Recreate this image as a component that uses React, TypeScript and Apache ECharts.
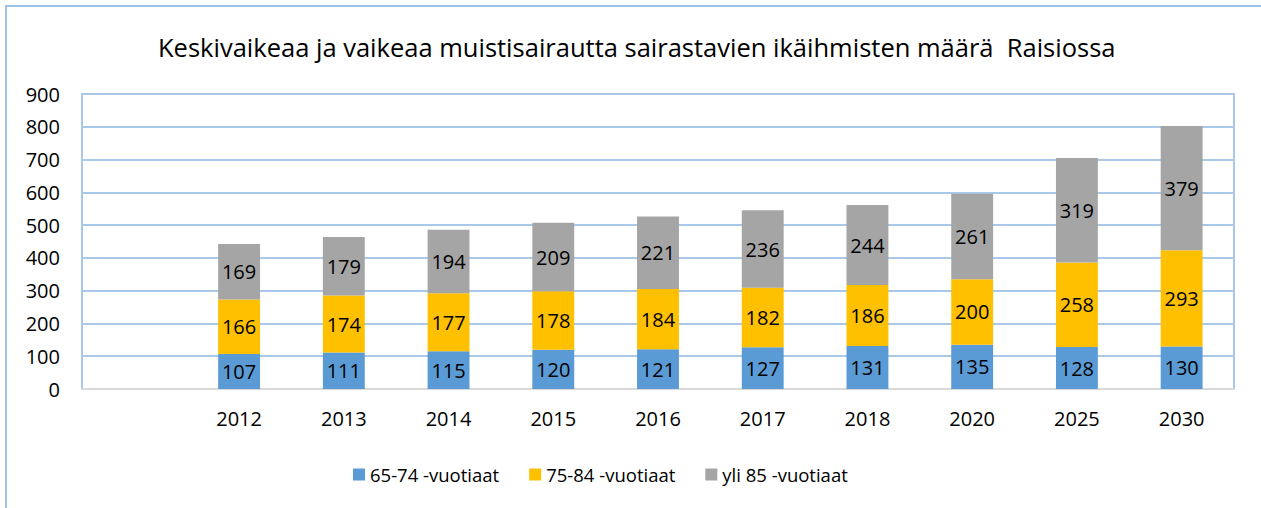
import React, { useEffect, useRef } from "react";
import * as echarts from "echarts";

const categories = ["", "2012", "2013", "2014", "2015", "2016", "2017", "2018", "2020", "2025", "2030"];
const age65to74 = [null, 107, 111, 115, 120, 121, 127, 131, 135, 128, 130];
const age75to84 = [null, 166, 174, 177, 178, 184, 182, 186, 200, 258, 293];
const age85plus = [null, 169, 179, 194, 209, 221, 236, 244, 261, 319, 379];
const seriesNames = ["65-74 -vuotiaat", "75-84 -vuotiaat", "yli 85 -vuotiaat"];
const colors = ["#5B9BD5", "#FFC000", "#A5A5A5"];
const titleText = "Keskivaikeaa ja vaikeaa muistisairautta sairastavien ikäihmisten määrä  Raisiossa";

const FONT = "'Open Sans', 'Noto Sans', sans-serif";

export default function App() {
  const ref = useRef<HTMLDivElement>(null);
  useEffect(() => {
    document.body.style.margin = "0";
    const chart = echarts.init(ref.current!, null, { renderer: "svg" });
    const data = [age65to74, age75to84, age85plus];
    chart.setOption({
      animation: false,
      backgroundColor: "#ffffff",
      textStyle: { fontFamily: FONT },
      title: {
        text: titleText,
        left: 153,
        top: 29,
        textStyle: { fontFamily: FONT, fontSize: 25.5, fontWeight: "normal", color: "#000" },
      },
      graphic: [
        {
          type: "rect",
          shape: { x: 6, y: 6, width: 1400, height: 700 },
          style: { fill: "none", stroke: "#9DC3E6", lineWidth: 2 },
          silent: true,
        },
      ],
      legend: {
        top: 460,
        left: 348,
        itemWidth: 12,
        itemHeight: 12,
        itemGap: 30,
        icon: "rect",
        textStyle: { fontFamily: FONT, fontSize: 18.5, color: "#000" },
        data: seriesNames,
      },
      grid: {
        left: 82,
        right: 27,
        top: 94,
        bottom: 119,
        show: true,
        borderColor: "#A9C8EA",
        borderWidth: 2,
      },
      xAxis: {
        type: "category",
        data: categories,
        axisLine: { lineStyle: { color: "#D9D9D9", width: 2 } },
        axisTick: { show: false },
        axisLabel: { fontFamily: FONT, fontSize: 20, color: "#000", margin: 19 },
      },
      yAxis: {
        type: "value",
        min: 0,
        max: 900,
        interval: 100,
        axisLine: { show: false },
        axisTick: { show: false },
        axisLabel: { fontFamily: FONT, fontSize: 20, color: "#000", margin: 22 },
        splitLine: { lineStyle: { color: "#A9C8EA", width: 2 } },
      },
      series: seriesNames.map((name, i) => ({
        name,
        type: "bar",
        stack: "total",
        barWidth: "40%",
        data: data[i],
        itemStyle: { color: colors[i] },
        label: {
          show: true,
          position: "inside",
          fontFamily: FONT,
          fontSize: 20,
          color: "#000",
        },
      })),
    });
    return () => chart.dispose();
  }, []);
  return <div ref={ref} style={{ width: 1261, height: 508 }} />;
}
